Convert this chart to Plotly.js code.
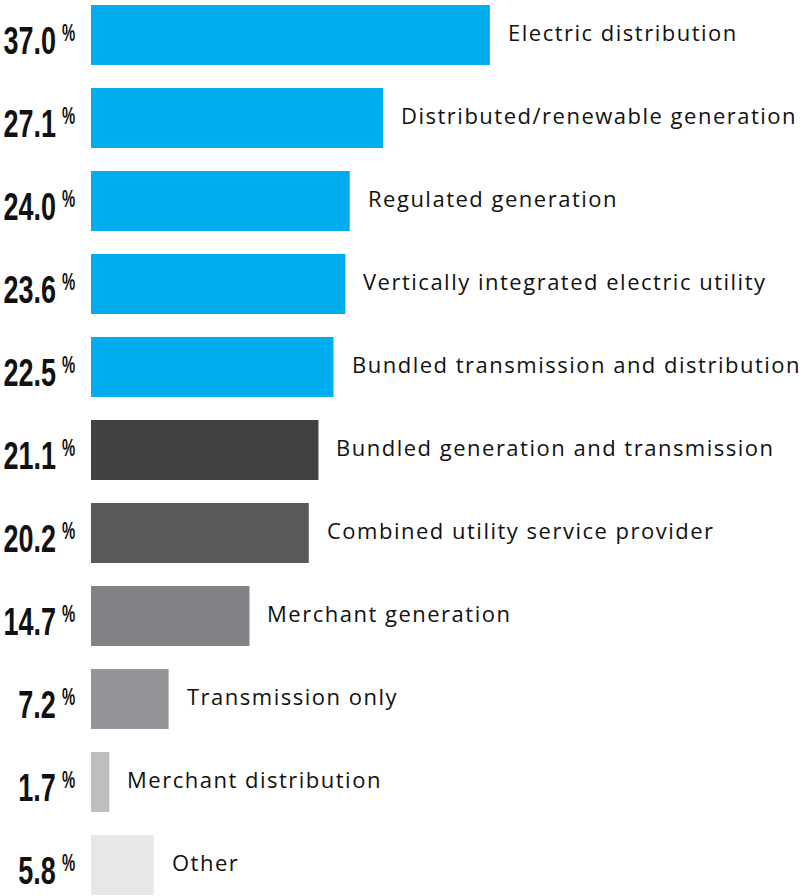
<!DOCTYPE html>
<html><head><meta charset="utf-8">
<script src="https://cdn.plot.ly/plotly-3.0.1.min.js"></script>
<style>html,body{margin:0;padding:0;background:#fff}#c{width:802px;height:896px}</style>
</head><body><div id="c"></div>
<script>
const categories = ["Electric distribution","Distributed/renewable generation","Regulated generation","Vertically integrated electric utility","Bundled transmission and distribution","Bundled generation and transmission","Combined utility service provider","Merchant generation","Transmission only","Merchant distribution","Other"];
const values = [37.0,27.1,24.0,23.6,22.5,21.1,20.2,14.7,7.2,1.7,5.8];
const valueLabels = ["37.0","27.1","24.0","23.6","22.5","21.1","20.2","14.7","7.2","1.7","5.8"];
const colors = ["#00AEEF","#00AEEF","#00AEEF","#00AEEF","#00AEEF","#414042","#58595B","#808285","#939598","#BCBEC0","#E6E7E8"];

const idx = categories.map((_, i) => i);
const numFont = "'Liberation Sans', Arial, sans-serif";
const labFont = "'Open Sans', 'Noto Sans', sans-serif";

const annotations = [];
const kinds = [];
idx.forEach(i => {
  annotations.push({x: 0, y: i, xref: 'x', yref: 'y', xanchor: 'right', yanchor: 'middle', xshift: -34, yshift: -6,
    text: valueLabels[i], showarrow: false, borderpad: 0,
    font: {family: numFont, size: 38, weight: 700, color: '#111'}});
  kinds.push('num');
  annotations.push({x: 0, y: i, xref: 'x', yref: 'y', xanchor: 'left', yanchor: 'top', xshift: -30, yshift: 17,
    text: '%', showarrow: false, borderpad: 0,
    font: {family: numFont, size: 24, weight: 700, color: '#111'}});
  kinds.push('pct');
  annotations.push({x: values[i], y: i, xref: 'x', yref: 'y', xanchor: 'left', yanchor: 'middle', xshift: 16, yshift: 3,
    text: categories[i], showarrow: false, font: {family: labFont, size: 22, color: '#111'}});
  kinds.push('lab');
});

Plotly.newPlot('c', [{
  type: 'bar', orientation: 'h', x: values, y: idx, width: idx.map(() => 60/83),
  marker: {color: colors}, hoverinfo: 'none'
}], {
  width: 802, height: 896, margin: {l: 91, r: 0, t: 0, b: 0},
  paper_bgcolor: '#fff', plot_bgcolor: '#fff', showlegend: false,
  xaxis: {range: [0, 65.95], visible: false, fixedrange: true},
  yaxis: {range: [10.373, -0.4217], visible: false, fixedrange: true},
  annotations: annotations
}, {displayModeBar: false, staticPlot: true}).then(gd => {
  const groups = gd.querySelectorAll('g.annotation');
  groups.forEach(g => {
    const k = kinds[+g.getAttribute('data-index')];
    const t = g.querySelector('text.annotation-text');
    if (!t) return;
    const b = t.getBBox();
    if (k === 'lab') {
      t.setAttribute('text-anchor', 'start');
      t.setAttribute('x', b.x);
      t.style.letterSpacing = '1.5px';
      return;
    }
    const sx = k === 'num' ? 0.71 : 0.62;
    const ax = k === 'num' ? b.x + b.width : b.x;
    t.setAttribute('transform', `translate(${ax},0) scale(${sx},1) translate(${-ax},0)`);
  });
});
</script></body></html>
